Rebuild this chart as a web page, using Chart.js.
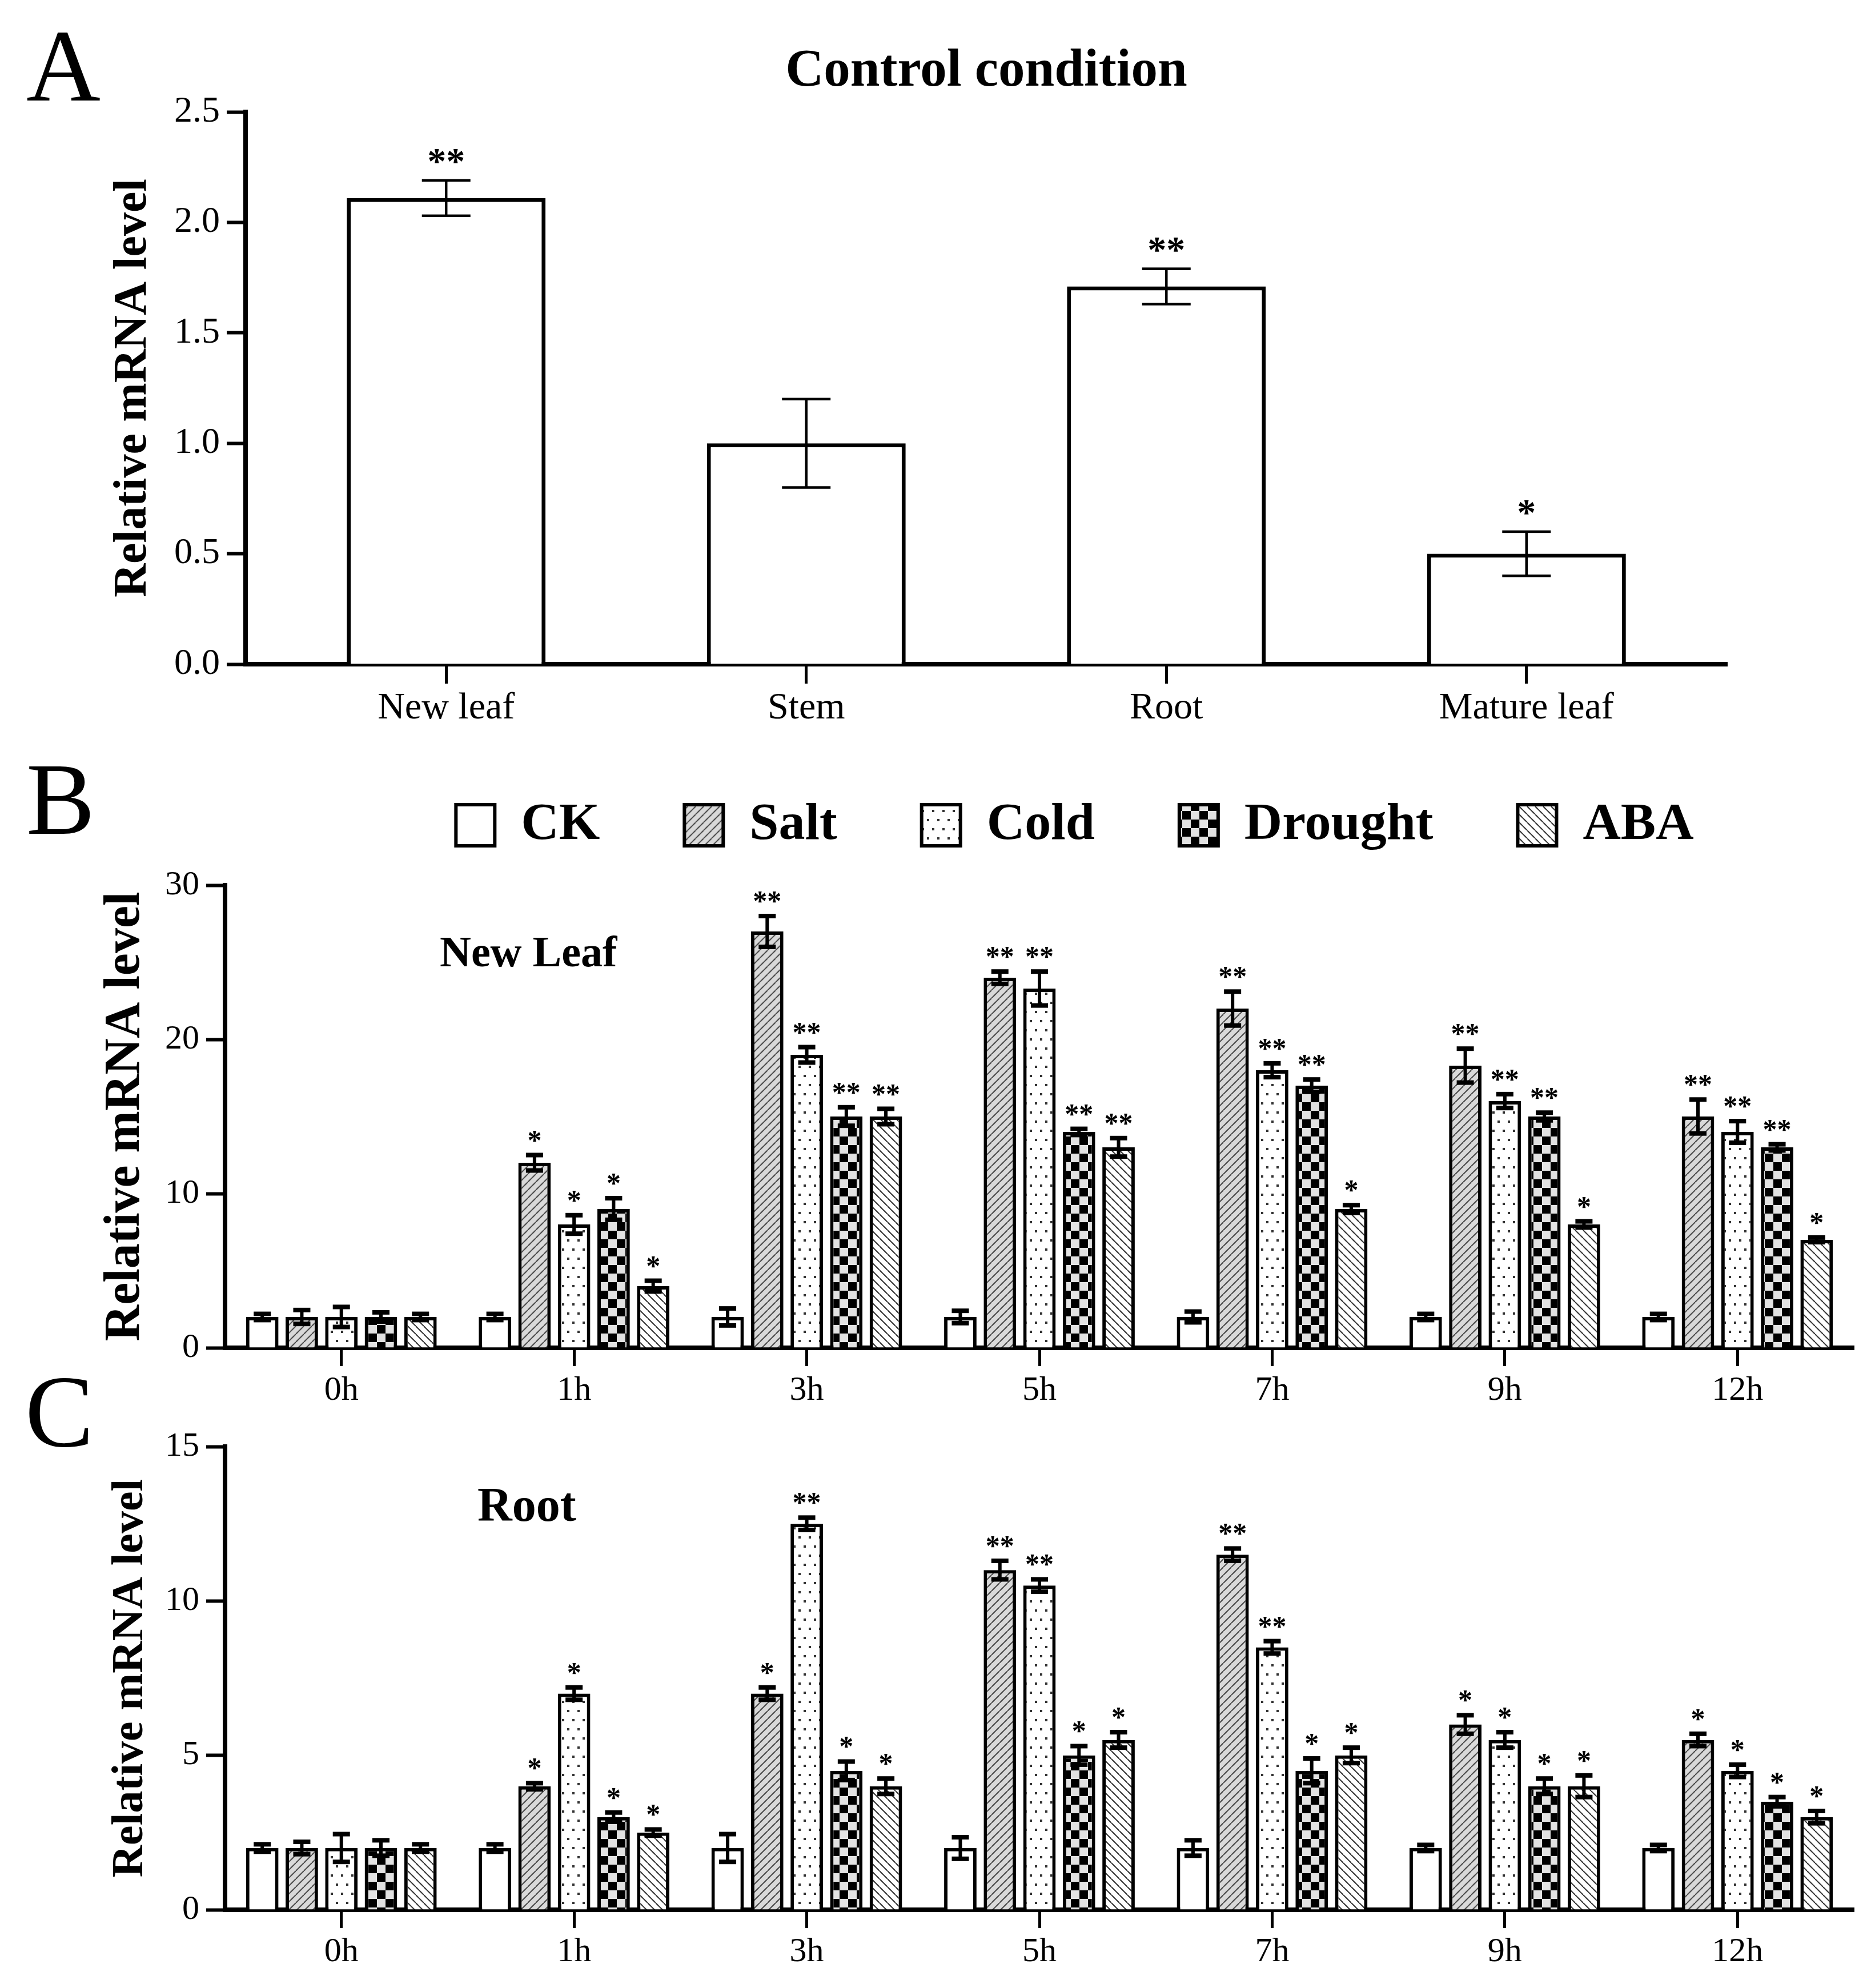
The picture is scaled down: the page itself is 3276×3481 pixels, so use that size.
<!DOCTYPE html>
<html>
<head>
<meta charset="utf-8">
<script src="https://cdn.jsdelivr.net/npm/chart.js@4.4.0/dist/chart.umd.min.js"></script>
<style>
  html, body { margin: 0; padding: 0; background: #fff; }
  #page { position: relative; width: 3276px; height: 3481px; background: #fff; }
  canvas { position: absolute; left: 0; }
</style>
</head>
<body>
<div id="page">
  <canvas id="chartA" width="3276" height="1300" style="top:0px;width:3276px;height:1300px"></canvas>
  <canvas id="chartB" width="3276" height="1180" style="top:1300px;width:3276px;height:1180px"></canvas>
  <canvas id="chartC" width="3276" height="1101" style="top:2380px;width:3276px;height:1101px"></canvas>
</div>
<script>
// Panel A - control condition
const tissues = ['New leaf', 'Stem', 'Root', 'Mature leaf'];
const controlMean = [2.11, 1.0, 1.71, 0.5];
const controlErr = [0.08, 0.2, 0.08, 0.1];
const controlSig = ['**', '', '**', '*'];

// Panels B and C - time course
const hours = ['0h', '1h', '3h', '5h', '7h', '9h', '12h'];
const treatments = ['CK', 'Salt', 'Cold', 'Drought', 'ABA'];

// New leaf
const leafCK = [2, 2, 2, 2, 2, 2, 2];
const leafSalt = [2, 12, 27, 24, 22, 18.3, 15];
const leafCold = [2, 8, 19, 23.3, 18, 16, 14];
const leafDrought = [2, 9, 15, 14, 17, 15, 13];
const leafABA = [2, 4, 15, 13, 9, 8, 7];
const leafCKErr = [0.2, 0.2, 0.55, 0.4, 0.35, 0.2, 0.2];
const leafSaltErr = [0.45, 0.5, 1.0, 0.4, 1.1, 1.1, 1.1];
const leafColdErr = [0.65, 0.6, 0.5, 1.1, 0.45, 0.45, 0.7];
const leafDroughtErr = [0.3, 0.7, 0.6, 0.2, 0.4, 0.25, 0.2];
const leafABAErr = [0.2, 0.35, 0.5, 0.6, 0.25, 0.2, 0.15];
const leafSaltSig = ['', '*', '**', '**', '**', '**', '**'];
const leafColdSig = ['', '*', '**', '**', '**', '**', '**'];
const leafDroughtSig = ['', '*', '**', '**', '**', '**', '**'];
const leafABASig = ['', '*', '**', '**', '*', '*', '*'];

// Root
const rootCK = [2, 2, 2, 2, 2, 2, 2];
const rootSalt = [2, 4, 7, 11, 11.5, 6, 5.5];
const rootCold = [2, 7, 12.5, 10.5, 8.5, 5.5, 4.5];
const rootDrought = [2, 3, 4.5, 5, 4.5, 4, 3.5];
const rootABA = [2, 2.5, 4, 5.5, 5, 4, 3];
const rootCKErr = [0.12, 0.12, 0.45, 0.35, 0.25, 0.1, 0.1];
const rootSaltErr = [0.2, 0.1, 0.2, 0.3, 0.2, 0.3, 0.2];
const rootColdErr = [0.45, 0.2, 0.2, 0.2, 0.2, 0.25, 0.2];
const rootDroughtErr = [0.25, 0.15, 0.3, 0.3, 0.4, 0.25, 0.15];
const rootABAErr = [0.12, 0.1, 0.25, 0.25, 0.25, 0.35, 0.2];
const rootSaltSig = ['', '*', '*', '**', '**', '*', '*'];
const rootColdSig = ['', '*', '**', '**', '**', '*', '*'];
const rootDroughtSig = ['', '*', '*', '*', '*', '*', '*'];
const rootABASig = ['', '*', '*', '*', '*', '*', '*'];
const noSig = ['', '', '', '', '', '', ''];

const SERIF = "'Liberation Serif', 'Times New Roman', serif";

// Fill patterns for the treatments
function makeTile(w, h, draw) {
    const c = document.createElement('canvas');
    c.width = w;
    c.height = h;
    const g = c.getContext('2d');
    draw(g, w, h);
    return g.createPattern(c, 'repeat');
}

const saltFill = makeTile(14, 14, (g, w, h) => {
    g.fillStyle = '#d9d9d9';
    g.fillRect(0, 0, w, h);
    g.strokeStyle = '#4a4a4a';
    g.lineWidth = 2;
    for (let k = -1; k <= 1; k++) {
        g.beginPath();
        g.moveTo(k * w, h);
        g.lineTo(k * w + w, 0);
        g.stroke();
    }
});
const coldFill = makeTile(18, 32, (g, w, h) => {
    g.fillStyle = '#fff';
    g.fillRect(0, 0, w, h);
    g.fillStyle = '#333';
    g.fillRect(3, 6, 4, 4);
    g.fillRect(12, 22, 4, 4);
});
const droughtFill = makeTile(30, 30, (g, w, h) => {
    g.fillStyle = '#e2e2e2';
    g.fillRect(0, 0, w, h);
    g.fillStyle = '#000';
    g.fillRect(0, 0, 15, 15);
    g.fillRect(15, 15, 15, 15);
});
const abaFill = makeTile(14, 14, (g, w, h) => {
    g.fillStyle = '#fff';
    g.fillRect(0, 0, w, h);
    g.strokeStyle = '#333';
    g.lineWidth = 2;
    for (let k = -1; k <= 1; k++) {
        g.beginPath();
        g.moveTo(k * w, 0);
        g.lineTo(k * w + w, h);
        g.stroke();
    }
});
const fills = ['#ffffff', saltFill, coldFill, droughtFill, abaFill];

// Error bars and significance stars drawn on top of each bar
function makeErrorBarPlugin(cfg) {
    return {
        id: 'errorBars',
        afterDatasetsDraw(chart) {
            const ctx = chart.ctx;
            const yScale = chart.scales.y;
            ctx.save();
            ctx.fillStyle = '#000';
            chart.data.datasets.forEach((ds, i) => {
                const meta = chart.getDatasetMeta(i);
                meta.data.forEach((bar, j) => {
                    const v = ds.data[j];
                    const e = ds.errors[j];
                    const yTop = yScale.getPixelForValue(v + e);
                    const yBot = yScale.getPixelForValue(v - e);
                    ctx.fillRect(bar.x - cfg.stem / 2, yTop, cfg.stem, yBot - yTop);
                    ctx.fillRect(bar.x - cfg.cap / 2, yTop - cfg.capThick / 2, cfg.cap, cfg.capThick);
                    ctx.fillRect(bar.x - cfg.cap / 2, yBot - cfg.capThick / 2, cfg.cap, cfg.capThick);
                    const star = ds.sig ? ds.sig[j] : '';
                    if (star) {
                        ctx.font = cfg.starFont;
                        ctx.textAlign = 'center';
                        ctx.textBaseline = 'alphabetic';
                        const m = ctx.measureText(star);
                        const cy = yTop - cfg.starGap;
                        ctx.fillText(star, bar.x, cy + (m.actualBoundingBoxAscent - m.actualBoundingBoxDescent) / 2);
                    }
                });
            });
            ctx.restore();
        }
    };
}

// Free text: panel letters, titles, tissue names
function makeTextPlugin(items) {
    return {
        id: 'panelText',
        afterDraw(chart) {
            const ctx = chart.ctx;
            const area = chart.chartArea;
            ctx.save();
            ctx.fillStyle = '#000';
            ctx.textBaseline = 'alphabetic';
            items.forEach(it => {
                ctx.font = it.font;
                ctx.textAlign = it.align || 'left';
                const x = it.x === 'center' ? (area.left + area.right) / 2 : it.x;
                ctx.fillText(it.text, x, it.y);
            });
            ctx.restore();
        }
    };
}

// Move the legend to where the figure has it
function makeLegendShift(centerX, dy) {
    return {
        id: 'legendShift',
        afterLayout(chart) {
            const lg = chart.legend;
            if (!lg) return;
            const dx = centerX - (lg.left + lg.right) / 2;
            lg.left += dx;
            lg.right += dx;
            lg.top += dy;
            lg.bottom += dy;
        }
    };
}

function xAxis(fontSize, tickLen, pad, height) {
    return {
        offset: true,
        grid: { offset: false, drawOnChartArea: false, drawTicks: true, tickLength: tickLen, tickWidth: 5, tickColor: '#000' },
        border: { display: true, color: '#000', width: 8 },
        ticks: { font: { family: SERIF, size: fontSize }, color: '#000', padding: pad, maxRotation: 0, autoSkip: false },
        afterFit: s => { s.height = height; }
    };
}

function yAxis(max, step, digits, fontSize, titleSize, titlePad, width) {
    return {
        min: 0,
        max: max,
        ticks: { stepSize: step, callback: v => Number(v).toFixed(digits), font: { family: SERIF, size: fontSize }, color: '#000', padding: 12 },
        grid: { drawOnChartArea: false, drawTicks: true, tickLength: 33, tickWidth: 6, tickColor: '#000' },
        border: { display: true, color: '#000', width: 8 },
        title: { display: true, text: 'Relative mRNA level', color: '#000', font: { family: SERIF, size: titleSize, weight: 'bold' }, padding: { top: titlePad, bottom: 0 } },
        afterFit: s => { s.width = width; }
    };
}

function timeDatasets(means, errs, sigs) {
    return treatments.map((t, k) => ({
        label: t,
        data: means[k],
        errors: errs[k],
        sig: sigs[k],
        backgroundColor: fills[k],
        borderColor: '#000',
        borderWidth: 6,
        borderSkipped: 'start',
        barPercentage: 0.82,
        categoryPercentage: 0.85
    }));
}

// Panel A
const xA = xAxis(66, 34, 4, 137);
// a little extra room at both ends of the category axis, as in the figure
xA.afterBuildTicks = s => { s._startValue = -0.557; s._valueRange = tissues.length + 0.114; };

new Chart(document.getElementById('chartA'), {
    type: 'bar',
    data: {
        labels: tissues,
        datasets: [{
            data: controlMean,
            errors: controlErr,
            sig: controlSig,
            backgroundColor: '#fff',
            borderColor: '#000',
            borderWidth: 7,
            barPercentage: 0.552,
            categoryPercentage: 1
        }]
    },
    options: {
        responsive: false,
        animation: false,
        devicePixelRatio: 1,
        events: [],
        layout: { padding: { top: 196, right: 252, bottom: 0, left: 0 } },
        plugins: { legend: { display: false }, tooltip: { enabled: false } },
        scales: {
            x: xA,
            y: yAxis(2.5, 0.5, 1, 64, 82, 185, 430)
        }
    },
    plugins: [
        makeErrorBarPlugin({ stem: 4.5, cap: 85, capThick: 4.5, starFont: 'bold 66px ' + SERIF, starGap: 42 }),
        makeTextPlugin([
            { text: 'A', x: 46, y: 176, font: '180px ' + SERIF },
            { text: 'Control condition', x: 'center', y: 150, font: 'bold 93px ' + SERIF, align: 'center' }
        ])
    ]
});

// Panel B - new leaf
new Chart(document.getElementById('chartB'), {
    type: 'bar',
    data: {
        labels: hours,
        datasets: timeDatasets(
            [leafCK, leafSalt, leafCold, leafDrought, leafABA],
            [leafCKErr, leafSaltErr, leafColdErr, leafDroughtErr, leafABAErr],
            [noSig, leafSaltSig, leafColdSig, leafDroughtSig, leafABASig]
        )
    },
    options: {
        responsive: false,
        animation: false,
        devicePixelRatio: 1,
        events: [],
        layout: { padding: { top: 0, right: 30, bottom: 0, left: 0 } },
        plugins: {
            legend: {
                display: true,
                position: 'top',
                labels: { font: { family: SERIF, size: 92, weight: 'bold' }, color: '#000', boxWidth: 68, boxHeight: 72, padding: 148 }
            },
            tooltip: { enabled: false }
        },
        scales: {
            x: xAxis(60, 32, 7, 120),
            y: yAxis(30, 10, 0, 60, 88, 167, 394)
        }
    },
    plugins: [
        makeErrorBarPlugin({ stem: 6, cap: 30, capThick: 8, starFont: 'bold 50px ' + SERIF, starGap: 33 }),
        makeTextPlugin([
            { text: 'B', x: 46, y: 160, font: '180px ' + SERIF },
            { text: 'New Leaf', x: 770, y: 392, font: 'bold 76px ' + SERIF }
        ]),
        makeLegendShift(1882, -49)
    ]
});

// Panel C - root
new Chart(document.getElementById('chartC'), {
    type: 'bar',
    data: {
        labels: hours,
        datasets: timeDatasets(
            [rootCK, rootSalt, rootCold, rootDrought, rootABA],
            [rootCKErr, rootSaltErr, rootColdErr, rootDroughtErr, rootABAErr],
            [noSig, rootSaltSig, rootColdSig, rootDroughtSig, rootABASig]
        )
    },
    options: {
        responsive: false,
        animation: false,
        devicePixelRatio: 1,
        events: [],
        layout: { padding: { top: 153, right: 30, bottom: 0, left: 0 } },
        plugins: { legend: { display: false }, tooltip: { enabled: false } },
        scales: {
            x: xAxis(60, 32, 6, 137),
            y: yAxis(15, 5, 0, 60, 78, 182, 394)
        }
    },
    plugins: [
        makeErrorBarPlugin({ stem: 6, cap: 30, capThick: 8, starFont: 'bold 50px ' + SERIF, starGap: 33 }),
        makeTextPlugin([
            { text: 'C', x: 44, y: 152, font: '180px ' + SERIF },
            { text: 'Root', x: 836, y: 283, font: 'bold 84px ' + SERIF }
        ])
    ]
});
</script>
</body>
</html>
